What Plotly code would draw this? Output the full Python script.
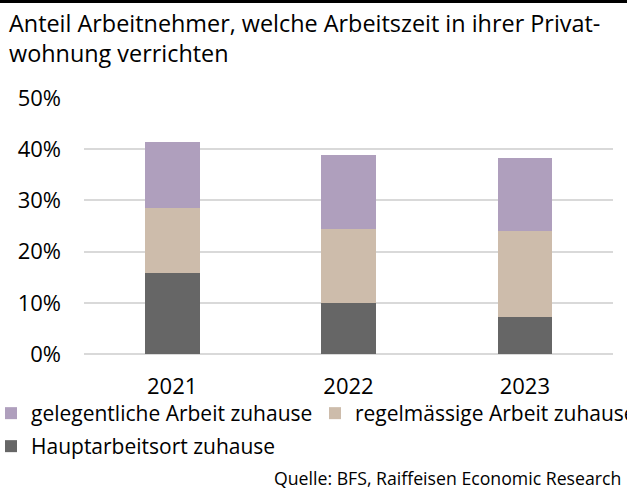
import plotly.graph_objects as go

years = ["2021", "2022", "2023"]
haupt = [15.9, 10.0, 7.3]
regel = [12.6, 14.4, 16.7]
gelegen = [13.0, 14.5, 14.3]

names = ["Hauptarbeitsort zuhause", "regelmässige Arbeit zuhause", "gelegentliche Arbeit zuhause"]
colors = ["#666666", "#CDBCAB", "#AF9FBD"]
legends = ["legend3", "legend2", "legend"]

W, H = 627, 490
ml, mr, mt, mb = 84, 14, 98, 136
FONT = "Open Sans"
pw = W - ml - mr
ph = H - mt - mb


def px_x(p):
    return (p - ml) / pw


def px_y(p):
    return (H - mb - p) / ph


fig = go.Figure()
for vals, name, col, lg in zip([haupt, regel, gelegen], names, colors, legends):
    fig.add_trace(go.Bar(x=years, y=vals, name=name, marker=dict(color=col, line=dict(width=0)),
                         width=0.31, legend=lg))

leg_common = dict(orientation="h", xanchor="left", yanchor="top", font=dict(size=21, family=FONT, color="#000000"),
                  bgcolor="rgba(0,0,0,0)", borderwidth=0, itemclick=False, itemdoubleclick=False)

fig.update_layout(
    width=W, height=H,
    margin=dict(l=ml, r=mr, t=mt, b=mb, autoexpand=False),
    barmode="stack",
    plot_bgcolor="white", paper_bgcolor="white",
    font=dict(family=FONT, color="#000000", size=18),
    showlegend=True,
    legend=dict(x=px_x(-9), y=px_y(393), **leg_common),
    legend2=dict(x=px_x(315), y=px_y(393), **leg_common),
    legend3=dict(x=px_x(-9), y=px_y(426), **leg_common),
    xaxis=dict(showgrid=False, showline=False, ticks="", tickfont=dict(size=22, color="#000000"),
               range=[-0.5, 2.5], ticklabelstandoff=17),
    yaxis=dict(range=[0, 50], dtick=10, ticksuffix="%", showgrid=True, gridcolor="#D9D9D9",
               gridwidth=2, zeroline=True, zerolinecolor="#D9D9D9", zerolinewidth=2,
               showline=False, ticks="", tickfont=dict(size=22, color="#000000"), ticklabelstandoff=22),
    bargap=0,
)

fig.add_annotation(text="Anteil Arbeitnehmer, welche Arbeitszeit in ihrer Privat-<br>wohnung verrichten",
                   xref="paper", yref="paper", x=px_x(7), y=px_y(5),
                   xanchor="left", yanchor="top", align="left", showarrow=False,
                   font=dict(size=23.4, family=FONT, color="#000000"))
fig.add_annotation(text="Quelle: BFS, Raiffeisen Economic Research",
                   xref="paper", yref="paper", x=px_x(623), y=px_y(478),
                   xanchor="right", yanchor="middle", showarrow=False,
                   font=dict(size=17.7, family=FONT, color="#000000"))
fig.add_shape(type="rect", xref="paper", yref="paper",
              x0=px_x(-2), x1=px_x(W + 2), y0=px_y(3), y1=px_y(-2),
              fillcolor="#000000", line=dict(width=0), layer="above")

fig.write_html("out.html", config={"displayModeBar": False},
               post_script="document.body.style.margin='0';document.body.style.padding='0';")
